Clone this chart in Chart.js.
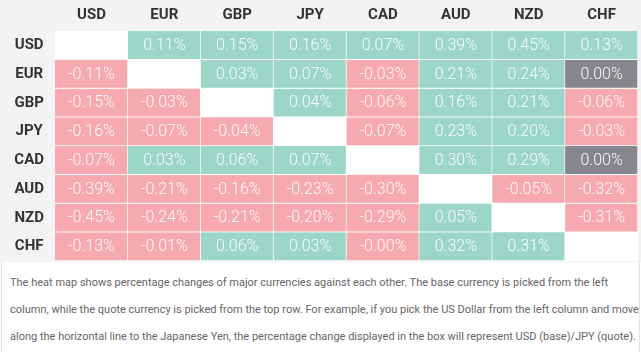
<!DOCTYPE html>
<html>
<head>
<meta charset="utf-8">
<script src="https://cdn.jsdelivr.net/npm/chart.js@4.4.0/dist/chart.umd.min.js"></script>
<style>
  body { margin: 0; background: #fff; font-family: Roboto, sans-serif; }
  #wrap { position: relative; width: 641px; height: 352px; overflow: hidden; }
  #box { position: absolute; left: 0; top: 0; width: 641px; height: 262px; background: #f3f3f3; }
  #note {
    position: absolute; left: 1px; top: 262px; width: 629px; height: 100px;
    border-left: 1px solid #e3e3e3; border-right: 1px solid #e3e3e3;
    padding: 7px 0 0 8px; box-sizing: content-box;
    font: 11px "Liberation Sans Narrow", Roboto, sans-serif; line-height: 27px; color: #666;
  }
</style>
</head>
<body>
<div id="wrap">
  <div id="box"><canvas id="myChart" width="641" height="262"></canvas></div>
  <div id="note">The heat map shows percentage changes of major currencies against each other. The base currency is picked from the left column, while the quote currency is picked from the top row. For example, if you pick the US Dollar from the left column and move along the horizontal line to the Japanese Yen, the percentage change displayed in the box will represent USD (base)/JPY (quote).</div>
</div>
<script>
var currencies = ['USD', 'EUR', 'GBP', 'JPY', 'CAD', 'AUD', 'NZD', 'CHF'];

// rows = base currency, columns = quote currency (null on the diagonal)
var usdRow = [null, 0.11, 0.15, 0.16, 0.07, 0.39, 0.45, 0.13];
var eurRow = [-0.11, null, 0.03, 0.07, -0.03, 0.21, 0.24, 0.00];
var gbpRow = [-0.15, -0.03, null, 0.04, -0.06, 0.16, 0.21, -0.06];
var jpyRow = [-0.16, -0.07, -0.04, null, -0.07, 0.23, 0.20, -0.03];
var cadRow = [-0.07, 0.03, 0.06, 0.07, null, 0.30, 0.29, 0.00];
var audRow = [-0.39, -0.21, -0.16, -0.23, -0.30, null, -0.05, -0.32];
var nzdRow = [-0.45, -0.24, -0.21, -0.20, -0.29, 0.05, null, -0.31];
var chfRow = [-0.13, -0.01, 0.06, 0.03, -0.00, 0.32, 0.31, null];

var rows = [usdRow, eurRow, gbpRow, jpyRow, cadRow, audRow, nzdRow, chfRow];

const isNeg = v => v < 0 || Object.is(v, -0);

const cellColor = v => {
  if (isNeg(v)) return '#f7a9b0';
  if (v > 0) return '#9bd6c8';
  return '#86878e';
};

const fmt = v => (isNeg(v) ? '-' : '') + Math.abs(v).toFixed(2) + '%';

const datasets = rows.map((vals, r) => ({
  label: currencies[r],
  data: vals.map((v, c) => ({ x: currencies[c], y: [r, r + 1], v: v })).filter(d => d.v !== null),
  backgroundColor: ctx => cellColor(ctx.raw.v),
  borderColor: '#ffffff',
  borderWidth: { top: 0, left: 0, right: 1, bottom: 1 },
  borderSkipped: false,
  barPercentage: 1,
  categoryPercentage: 1,
  grouped: false
}));

// white background behind the cells
const whiteArea = {
  id: 'whiteArea',
  beforeDatasetsDraw(chart) {
    const a = chart.chartArea;
    chart.ctx.save();
    chart.ctx.fillStyle = '#ffffff';
    chart.ctx.fillRect(a.left, a.top, a.right - a.left, a.bottom - a.top);
    chart.ctx.restore();
  }
};

// percentage text in each cell
const cellText = {
  id: 'cellText',
  afterDatasetsDraw(chart) {
    const ctx = chart.ctx;
    ctx.save();
    ctx.font = '300 16px Roboto';
    ctx.fillStyle = '#fbfbfb';
    ctx.textAlign = 'center';
    ctx.textBaseline = 'middle';
    chart.data.datasets.forEach((ds, i) => {
      chart.getDatasetMeta(i).data.forEach((bar, j) => {
        const p = bar.getProps(['x', 'y', 'base'], true);
        ctx.fillText(fmt(ds.data[j].v), p.x, (p.y + p.base) / 2 + 0.5);
      });
    });
    ctx.restore();
  }
};

const ctx = document.getElementById('myChart').getContext('2d');
new Chart(ctx, {
  type: 'bar',
  data: { labels: currencies, datasets: datasets },
  plugins: [whiteArea, cellText],
  options: {
    responsive: false,
    animation: false,
    layout: { padding: { left: 0, top: 0, right: 3, bottom: 1 } },
    plugins: { legend: { display: false }, tooltip: { enabled: false } },
    scales: {
      x: {
        type: 'category',
        position: 'top',
        grid: { display: false },
        border: { display: false },
        ticks: { color: '#333', font: { family: 'Roboto', size: 15, weight: 'bold' }, padding: -1 },
        afterFit: s => { s.height = 31; s.paddingLeft = 0; s.paddingRight = 0; }
      },
      y: {
        type: 'linear',
        min: 0,
        max: 8,
        reverse: true,
        grid: { display: false },
        border: { display: false },
        afterBuildTicks: s => { s.ticks = currencies.map((c, i) => ({ value: i + 0.5 })); },
        ticks: {
          color: '#333',
          font: { family: 'Roboto', size: 15, weight: 'bold' },
          crossAlign: 'center',
          callback: v => currencies[Math.floor(v)]
        },
        afterFit: s => { s.width = 55; s.paddingTop = 0; s.paddingBottom = 0; }
      }
    }
  }
});
</script>
</body>
</html>
